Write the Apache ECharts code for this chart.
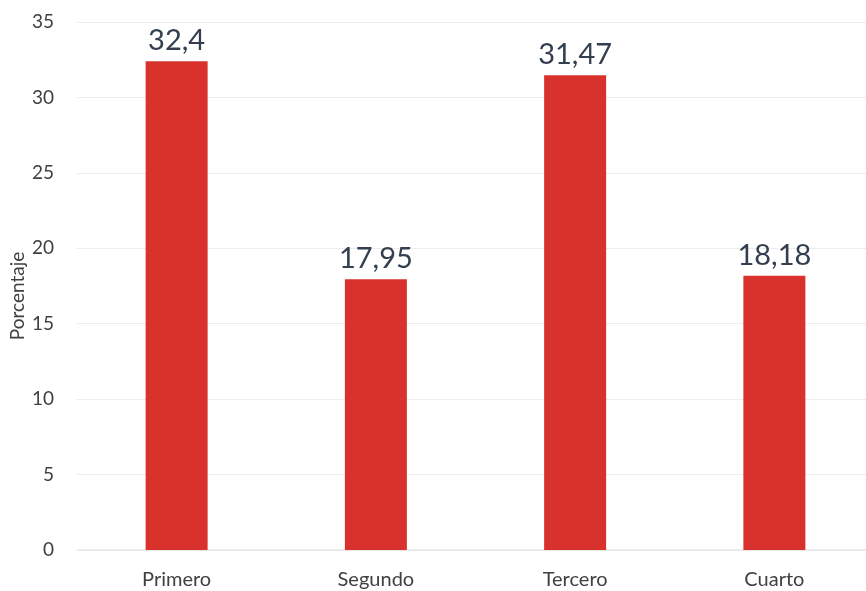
<!DOCTYPE html>
<html>
<head>
<meta charset="utf-8">
<script src="https://cdn.jsdelivr.net/npm/echarts@6/dist/echarts.min.js"></script>
<style>
  html, body { margin: 0; padding: 0; background: #ffffff; }
  #chart { width: 866px; height: 591px; }
</style>
</head>
<body>
<div id="chart"></div>
<script>
// Quarter labels and percentage per quarter
const categories = ['Primero', 'Segundo', 'Tercero', 'Cuarto'];
const values = [32.4, 17.95, 31.47, 18.18];
const valueLabels = ['32,4', '17,95', '31,47', '18,18'];

const FONT = 'Lato, "Open Sans", sans-serif';

const chart = echarts.init(document.getElementById('chart'));
chart.setOption({
  animation: false,
  grid: { left: 77, top: 22, width: 797, height: 528, outerBoundsMode: 'none', containLabel: false },
  xAxis: {
    type: 'category',
    data: categories,
    axisLine: { lineStyle: { color: '#e6e6e6', width: 1.5 } },
    axisTick: { show: false },
    axisLabel: { color: '#404040', fontSize: 20, fontFamily: FONT, margin: 20 }
  },
  yAxis: {
    type: 'value',
    min: 0, max: 35, interval: 5,
    name: 'Porcentaje',
    nameLocation: 'middle',
    nameGap: 50,
    nameMoveOverlap: false,
    nameTextStyle: { color: '#404040', fontSize: 19, fontFamily: FONT, padding: [0, 20, 0, 0] },
    axisLine: { show: false },
    axisTick: { show: false },
    splitLine: { lineStyle: { color: '#ececec', width: 1 } },
    axisLabel: { color: '#404040', fontSize: 19, fontFamily: FONT, margin: 23 }
  },
  series: [{
    type: 'bar',
    data: values,
    barWidth: 62,
    itemStyle: { color: '#d9322c' },
    label: {
      show: true,
      position: 'top',
      distance: 6,
      color: '#333e4f',
      fontSize: 29,
      fontFamily: FONT,
      formatter: p => valueLabels[p.dataIndex]
    }
  }]
});
</script>
</body>
</html>
